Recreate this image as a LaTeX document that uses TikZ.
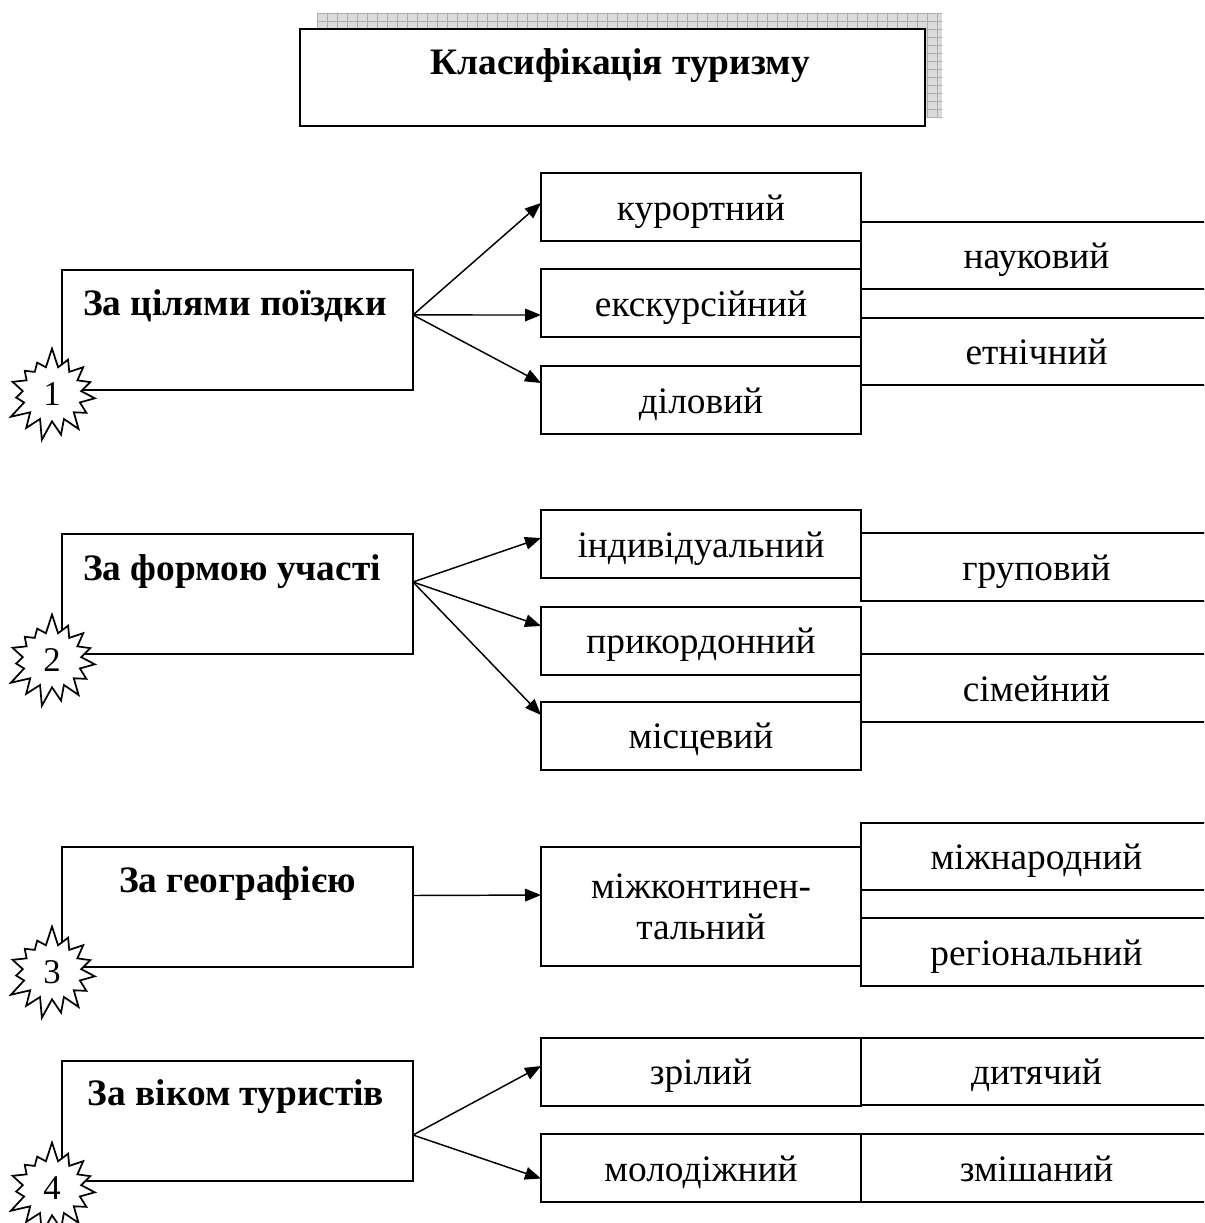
\documentclass[tikz,border=0pt]{standalone}
\usepackage{fontspec}
\setmainfont{Liberation Serif}
\usetikzlibrary{arrows.meta,shapes.symbols}
\begin{document}
\begin{tikzpicture}[x=0.75pt,y=-0.75pt,
  frame/.style={draw=black,line width=1.5pt,inner sep=0pt,outer sep=0pt},
  catbox/.style={frame,minimum width=263.25pt,minimum height=90pt},
  plain/.style={font=\fontsize{28}{33}\selectfont,text height=21pt,text depth=1.5pt},
  subbox/.style={frame,plain,minimum width=240pt,minimum height=51pt},
  sidebox/.style={frame,plain,minimum width=263.25pt,minimum height=50.5pt},
  cattext/.style={font=\fontsize{28}{33}\selectfont\bfseries,anchor=base,inner sep=0pt},
  arr/.style={line width=1.1pt,-{Triangle[length=12pt,width=9.5pt]}},
  burst/.style={starburst,starburst points=15,starburst point height=15pt,random starburst=7,
    draw=black,line width=1.3pt,fill=white,minimum width=74pt,minimum height=71pt,
    inner sep=0pt,font=\fontsize{26}{30}\selectfont}
]
\useasboundingbox (0,0) rectangle (1204,1223);
\clip (0,0) rectangle (1204,1223);
\fill[white] (0,0) rectangle (1204,1223);

% title with a chequered shadow
\fill[gray!28] (317,13) rectangle (942,118);
\foreach \gx in {317,327,...,942} \draw[gray!65,line width=0.5pt] (\gx,13) -- (\gx,118);
\foreach \gy in {13,21,...,118} \draw[gray!65,line width=0.5pt] (317,\gy) -- (942,\gy);
\node[frame,fill=white,minimum width=468.75pt,minimum height=72.75pt] (title) at (612.5,77.5) {};
\node[cattext] (titletext) at (620,75) {Класифікація туризму};

% category boxes
\node[catbox] (c1) at (237.5,329.5) {};
\node[catbox] (c2) at (237.5,594) {};
\node[catbox] (c3) at (237.5,906.5) {};
\node[catbox] (c4) at (237.5,1121) {};
\node[cattext] (c1t) at (235,315) {За цілями поїздки};
\node[cattext] (c2t) at (232,580) {За формою участі};
\node[cattext] (c3t) at (237.5,892) {За географією};
\node[cattext] (c4t) at (236,1105) {За віком туристів};

% group 1
\node[subbox] (kur) at (701,207) {курортний};
\node[subbox] (eks) at (701,303) {екскурсійний};
\node[subbox] (dil) at (701,400) {діловий};
\node[sidebox] (nauk) at (1036.5,255.5) {науковий};
\node[sidebox] (etn) at (1036.5,351.5) {етнічний};

% group 2
\node[subbox] (ind) at (701,544) {індивідуальний};
\node[subbox] (prk) at (701,640.5) {прикордонний};
\node[subbox] (mis) at (701,735.5) {місцевий};
\node[sidebox] (grp) at (1036.5,567) {груповий};
\node[sidebox] (sim) at (1036.5,688) {сімейний};

% group 3
\node[frame,minimum width=240pt,minimum height=89.25pt,align=center,
      font=\fontsize{28}{30.75}\selectfont] (mkt) at (701,906.5) {міжконтинен-\\тальний};
\node[sidebox] (mzn) at (1036.5,856.5) {міжнародний};
\node[sidebox] (reg) at (1036.5,952) {регіональний};

% group 4
\node[subbox] (zri) at (701,1071.5) {зрілий};
\node[subbox] (mol) at (701,1168) {молодіжний};
\node[sidebox] (dyt) at (1036.5,1071.5) {дитячий};
\node[sidebox] (zmi) at (1036.5,1168) {змішаний};

% arrow sources
\coordinate (s1) at ([yshift=10.9pt]c1.east);
\coordinate (s2) at ([yshift=9pt]c2.east);
\coordinate (s3) at ([yshift=8.25pt]c3.east);
\coordinate (s4) at ([yshift=-10.5pt]c4.east);

\draw[arr] (s1) -- ([yshift=3pt]kur.west);
\draw[arr] (s1) -- ([yshift=-9pt]eks.west);
\draw[arr] (s1) -- ([yshift=12.75pt]dil.west);
\draw[arr] (s2) -- ([yshift=4.5pt]ind.west);
\draw[arr] (s2) -- ([yshift=10.9pt]prk.west);
\draw[arr] (s2) -- ([yshift=15.4pt]mis.west);
\draw[arr] (s3) -- ([yshift=8.6pt]mkt.west);
\draw[arr] (s4) -- ([yshift=4.1pt]zri.west);
\draw[arr] (s4) -- ([yshift=-7.9pt]mol.west);

% numbered bursts
\node[burst] (n1) at (52,394) {1};
\node[burst] (n2) at (52,660) {2};
\node[burst] (n3) at (52,972) {3};
\node[burst] (n4) at (52,1188) {4};
\end{tikzpicture}
\end{document}
